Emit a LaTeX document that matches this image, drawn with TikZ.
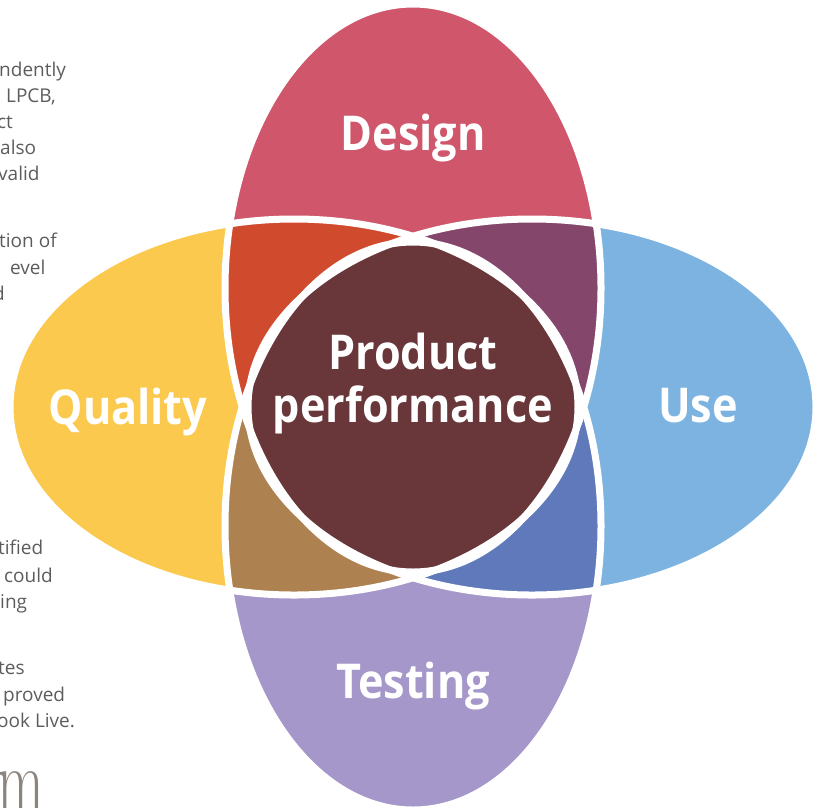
\documentclass[tikz,border=0pt]{standalone}
\usepackage{fontspec}
\newfontfamily\osans{Open Sans}
\definecolor{cD}{HTML}{D0566B}
\definecolor{cQ}{HTML}{FBC94D}
\definecolor{cU}{HTML}{7DB3E0}
\definecolor{cT}{HTML}{A597C9}
\definecolor{cDQ}{HTML}{D04B2E}
\definecolor{cDU}{HTML}{84476B}
\definecolor{cQT}{HTML}{AE8150}
\definecolor{cUT}{HTML}{5F79BB}
\definecolor{cC}{HTML}{693639}
\definecolor{cTxt}{HTML}{5C5C5C}
\definecolor{cM}{HTML}{8C847E}
\tikzset{
  lab/.style={text=white, font=\osans\bfseries\fontsize{48}{53}\selectfont, inner sep=0pt, anchor=base, xscale=0.9},
  side/.style={text=cTxt, font=\osans\fontsize{19}{20}\selectfont, inner sep=0pt, anchor=base west},
  ring/.style={draw=white, line width=7pt}
}
\def\Dpath{(413,288) ellipse [x radius=188pt, y radius=284pt]}
\def\Tpath{(413,526) ellipse [x radius=188pt, y radius=284pt]}
\def\Qpath{(294,407) ellipse [x radius=284pt, y radius=188pt]}
\def\Upath{(532,407) ellipse [x radius=284pt, y radius=188pt]}
\begin{document}
\begin{tikzpicture}[x=1pt,y=-1pt]
\useasboundingbox (0,0) rectangle (821,807);
% side text fragments
\node[side] (s1) at (-1,76) {ndently};
\node[side] (s2) at (6,102) {LPCB,};
\node[side] (s3) at (-3,128) {ct};
\node[side] (s4) at (0,154) {also};
\node[side] (s5) at (-2,180) {valid};
\node[side] (s6) at (-1,247) {tion of};
\node[side] (s7) at (10,274) {evel};
\node[side] (s8) at (-7,300) {d};
\node[side] (s9) at (-2,554) {tified};
\node[side] (s10) at (4,582) {could};
\node[side] (s11) at (0,608) {ing};
\node[side] (s12) at (-2,674) {tes};
\node[side] (s13) at (3,701) {proved};
\node[side] (s14) at (-3,727) {ook Live.};
\node[text=cM, font=\fontsize{98}{98}\selectfont, inner sep=0pt, anchor=base west, xscale=0.62] (bigm) at (-3,814) {m};
% base ellipses
\fill[cD] \Dpath;
\fill[cT] \Tpath;
\fill[cQ] \Qpath;
\fill[cU] \Upath;
% pairwise overlaps
\begin{scope}\clip \Dpath; \fill[cDQ] \Qpath; \end{scope}
\begin{scope}\clip \Dpath; \fill[cDU] \Upath; \end{scope}
\begin{scope}\clip \Tpath; \fill[cQT] \Qpath; \end{scope}
\begin{scope}\clip \Tpath; \fill[cUT] \Upath; \end{scope}
% centre
\begin{scope}\clip \Dpath; \clip \Tpath; \clip \Qpath; \fill[cC] \Upath; \end{scope}
% white outlines
\path[ring] \Dpath;
\path[ring] \Tpath;
\path[ring] \Qpath;
\path[ring] \Upath;
% labels
\node[lab] (design) at (413,150) {Design};
\node[lab] (testing) at (413,698) {Testing};
\node[lab] (quality) at (128,424) {Quality};
\node[lab] (use) at (698,422) {Use};
\node[lab] (prod) at (413,369) {Product};
\node[lab] (perf) at (413,422) {performance};
\end{tikzpicture}
\end{document}
